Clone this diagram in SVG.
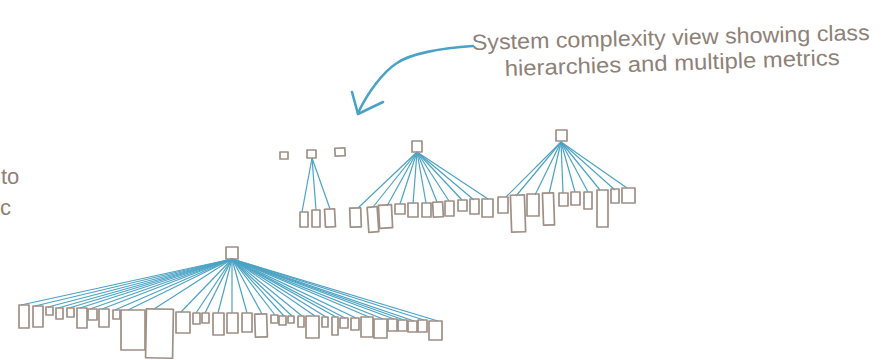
<svg xmlns="http://www.w3.org/2000/svg" width="890" height="360" viewBox="0 0 890 360">
<defs>
<style>
.b{fill:none;stroke:#9e9086;stroke-width:1.7;stroke-linejoin:round}
.c path{stroke:#4ca3c4;stroke-width:1.2;fill:none}
.t{font-family:"Liberation Sans","DejaVu Sans",sans-serif;fill:#8e8177;font-size:22px}
.a{stroke:#4aa3c4;stroke-width:2.6;fill:none;stroke-linecap:round;stroke-linejoin:round}
</style>
</defs>
<rect width="890" height="360" fill="#ffffff"/>
<text class="t" x="1" y="184">to</text>
<text class="t" x="0" y="215" font-size="18">c</text>
<text class="t" x="472" y="50" transform="rotate(-1.45 472 50)" textLength="398" lengthAdjust="spacingAndGlyphs">System complexity view showing class</text>
<text class="t" x="505" y="76" transform="rotate(-1.9 505 76)" textLength="335" lengthAdjust="spacingAndGlyphs">hierarchies and multiple metrics</text>
<g id="callout-arrow">
<path class="a" d="M473,46 C440,48 410,54 397,63 C383,72 368,92 358,113"/>
<path class="a" d="M352,92 L358,114 L383,102"/>
</g>
<g class="c" id="connectors">
<path d="M312,158 L302,212"/><path d="M312,158 L316,210"/><path d="M312,158 L330,209"/>
<path d="M417,152 L358,208"/><path d="M417,152 L373,207"/><path d="M417,152 L387,206"/><path d="M417,152 L400,204"/><path d="M417,152 L413,204"/><path d="M417,152 L426,203"/><path d="M417,152 L437,202"/><path d="M417,152 L449,201"/><path d="M417,152 L462,200"/><path d="M417,152 L474,200"/><path d="M417,152 L488,199"/>
<path d="M561,142 L506,197"/><path d="M561,142 L516,196"/><path d="M561,142 L535,195"/><path d="M561,142 L549,194"/><path d="M561,142 L563,193"/><path d="M561,142 L575,192"/><path d="M561,142 L588,192"/><path d="M561,142 L600,190"/><path d="M561,142 L615,190"/><path d="M561,142 L627,188"/>
<path d="M232,259 L21,305"/><path d="M232,259 L35,306"/><path d="M232,259 L48,307"/><path d="M232,259 L58,308"/><path d="M232,259 L69,308"/><path d="M232,259 L80,308"/><path d="M232,259 L90,309"/><path d="M232,259 L102,309"/><path d="M232,259 L115,310"/><path d="M232,259 L128,310"/><path d="M232,259 L154,309"/><path d="M232,259 L181,312"/><path d="M232,259 L196,313"/><path d="M232,259 L205,313"/><path d="M232,259 L218,313"/><path d="M232,259 L232,313"/><path d="M232,259 L247,313"/><path d="M232,259 L262,314"/><path d="M232,259 L275,315"/><path d="M232,259 L284,316"/><path d="M232,259 L292,316"/><path d="M232,259 L302,316"/><path d="M232,259 L315,316"/><path d="M232,259 L326,317"/><path d="M232,259 L336,317"/><path d="M232,259 L345,318"/><path d="M232,259 L356,318"/><path d="M232,259 L369,317"/><path d="M232,259 L383,319"/><path d="M232,259 L394,319"/><path d="M232,259 L404,320"/><path d="M232,259 L414,321"/><path d="M232,259 L424,320"/><path d="M232,259 L438,321"/>
</g>
<g id="small-tree">
<g id="s-single1"><rect class="b" x="280" y="152" width="8" height="7"/></g>
<g id="s-root"><rect class="b" x="307" y="150" width="9" height="8"/></g>
<g id="s-single2"><rect class="b" x="335" y="148" width="10" height="8" transform="rotate(-3 340 152)"/></g>
<g id="s1"><rect class="b" x="300" y="212" width="8" height="15"/></g>
<g id="s2"><rect class="b" x="312" y="210" width="8" height="17"/></g>
<g id="s3"><rect class="b" x="325" y="209" width="10" height="18" transform="rotate(-3 330 218)"/></g>
</g>
<g id="middle-tree">
<g id="m-root"><rect class="b" x="412" y="141" width="10" height="11"/></g>
<g id="m1"><rect class="b" x="350" y="208" width="11" height="19" transform="rotate(-2 355 217)"/></g>
<g id="m2"><rect class="b" x="368" y="207" width="10" height="25" transform="rotate(-4 373 220)"/></g>
<g id="m3"><rect class="b" x="379" y="205" width="13" height="23" transform="rotate(-3 385 216)"/></g>
<g id="m4"><rect class="b" x="395" y="204" width="10" height="10"/></g>
<g id="m5"><rect class="b" x="408" y="203" width="10" height="14"/></g>
<g id="m6"><rect class="b" x="422" y="203" width="9" height="14"/></g>
<g id="m7"><rect class="b" x="433" y="202" width="10" height="15" transform="rotate(-3 438 210)"/></g>
<g id="m8"><rect class="b" x="445" y="201" width="9" height="15"/></g>
<g id="m9"><rect class="b" x="458" y="200" width="9" height="11"/></g>
<g id="m10"><rect class="b" x="470" y="199" width="9" height="15"/></g>
<g id="m11"><rect class="b" x="482" y="199" width="11" height="18"/></g>
</g>
<g id="right-tree">
<g id="r-root"><rect class="b" x="556" y="130" width="11" height="11"/></g>
<g id="r1"><rect class="b" x="498" y="197" width="10" height="16"/></g>
<g id="r2"><rect class="b" x="511" y="195" width="14" height="37" transform="rotate(-2 518 213)"/></g>
<g id="r3"><rect class="b" x="527" y="194" width="12" height="22"/></g>
<g id="r4"><rect class="b" x="543" y="193" width="11" height="32" transform="rotate(-2 548 209)"/></g>
<g id="r5"><rect class="b" x="559" y="193" width="9" height="13"/></g>
<g id="r6"><rect class="b" x="571" y="192" width="9" height="13"/></g>
<g id="r7"><rect class="b" x="584" y="192" width="8" height="17"/></g>
<g id="r8"><rect class="b" x="597" y="190" width="11" height="37"/></g>
<g id="r9"><rect class="b" x="611" y="189" width="8" height="14"/></g>
<g id="r10"><rect class="b" x="622" y="188" width="13" height="15"/></g>
</g>
<g id="big-tree">
<g id="b-root"><rect class="b" x="226" y="247" width="12" height="12"/></g>
<g id="b1"><rect class="b" x="19" y="305" width="10" height="23"/></g>
<g id="b2"><rect class="b" x="33" y="306" width="10" height="21"/></g>
<g id="b3"><rect class="b" x="46" y="307" width="7" height="8"/></g>
<g id="b4"><rect class="b" x="56" y="308" width="7" height="11"/></g>
<g id="b5"><rect class="b" x="67" y="308" width="7" height="9"/></g>
<g id="b6"><rect class="b" x="77" y="308" width="10" height="20"/></g>
<g id="b7"><rect class="b" x="88" y="309" width="9" height="11"/></g>
<g id="b8"><rect class="b" x="99" y="309" width="10" height="18"/></g>
<g id="b9"><rect class="b" x="113" y="310" width="7" height="9"/></g>
<g id="b10"><rect class="b" x="121" y="310" width="24" height="40"/></g>
<g id="b11"><rect class="b" x="146" y="309" width="27" height="49" transform="rotate(1 159 333)"/></g>
<g id="b12"><rect class="b" x="176" y="312" width="14" height="21"/></g>
<g id="b13"><rect class="b" x="193" y="313" width="7" height="11"/></g>
<g id="b14"><rect class="b" x="202" y="313" width="7" height="10"/></g>
<g id="b15"><rect class="b" x="213" y="313" width="11" height="22"/></g>
<g id="b16"><rect class="b" x="227" y="313" width="11" height="20"/></g>
<g id="b17"><rect class="b" x="242" y="313" width="10" height="19"/></g>
<g id="b18"><rect class="b" x="255" y="314" width="12" height="23" transform="rotate(-2 261 325)"/></g>
<g id="b19"><rect class="b" x="271" y="315" width="7" height="8"/></g>
<g id="b20"><rect class="b" x="279" y="316" width="7" height="9"/></g>
<g id="b21"><rect class="b" x="288" y="316" width="6" height="7"/></g>
<g id="b22"><rect class="b" x="298" y="316" width="6" height="11"/></g>
<g id="b23"><rect class="b" x="306" y="316" width="13" height="22"/></g>
<g id="b24"><rect class="b" x="322" y="317" width="6" height="10"/></g>
<g id="b25"><rect class="b" x="332" y="317" width="6" height="18"/></g>
<g id="b26"><rect class="b" x="340" y="318" width="8" height="10"/></g>
<g id="b27"><rect class="b" x="351" y="318" width="8" height="12"/></g>
<g id="b28"><rect class="b" x="361" y="317" width="12" height="20"/></g>
<g id="b29"><rect class="b" x="374" y="319" width="13" height="19"/></g>
<g id="b30"><rect class="b" x="388" y="319" width="9" height="12"/></g>
<g id="b31"><rect class="b" x="398" y="320" width="9" height="11"/></g>
<g id="b32"><rect class="b" x="408" y="321" width="9" height="11"/></g>
<g id="b33"><rect class="b" x="418" y="320" width="9" height="12"/></g>
<g id="b34"><rect class="b" x="429" y="321" width="13" height="19"/></g>
</g>
</svg>
